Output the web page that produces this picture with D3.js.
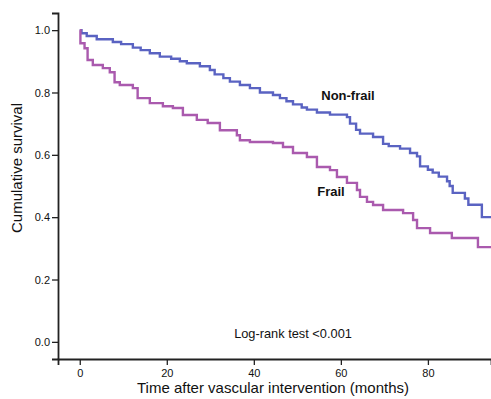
<!DOCTYPE html>
<html>
<head>
<meta charset="utf-8">
<script src="https://cdn.jsdelivr.net/npm/d3@7"></script>
<style>
  html, body { margin: 0; padding: 0; background: #fff; }
  svg { display: block; font-family: Arial, "Liberation Sans", sans-serif; }
</style>
</head>
<body>
<svg id="chart" width="491" height="399"></svg>
<script>
// ---- Data ----
const nonFrailTimes  = [0, 0.4, 1.6, 3.9, 7.6, 9.5, 12.2, 14, 16.1, 18.4, 21, 23, 24.6, 27.6, 29.9, 31, 33, 34.5, 36.8, 39.1, 41.4, 44.4, 46, 47.5, 49, 51, 52.2, 54.5, 57.5, 61.4, 62.1, 63.5, 64.4, 67.4, 69.7, 71, 73.6, 75.9, 77.5, 78.2, 80, 81.1, 82.5, 84.4, 85, 85.7, 88.5, 89.3, 92.4, 94.5];
const nonFrailValues = [1.0, 0.99, 0.981, 0.971, 0.962, 0.955, 0.944, 0.936, 0.926, 0.915, 0.908, 0.900, 0.894, 0.884, 0.872, 0.858, 0.846, 0.835, 0.824, 0.814, 0.800, 0.792, 0.782, 0.772, 0.762, 0.752, 0.745, 0.736, 0.729, 0.721, 0.700, 0.680, 0.668, 0.657, 0.635, 0.628, 0.620, 0.606, 0.595, 0.563, 0.552, 0.543, 0.530, 0.515, 0.500, 0.478, 0.460, 0.440, 0.400, 0.400];

const frailTimes  = [0, 0.15, 1.1, 1.8, 3.0, 5.3, 6.9, 8.0, 9.2, 12.2, 13.3, 16.1, 19.1, 21.4, 23.7, 26.9, 29.4, 32.2, 36.1, 36.8, 39.1, 44.4, 46.7, 49, 52.2, 54.5, 57.5, 59.1, 61.4, 63.7, 64.4, 66, 67.4, 69.7, 74.3, 76.6, 77.5, 80.5, 85.5, 91.5, 94.5];
const frailValues = [1.0, 0.958, 0.942, 0.904, 0.888, 0.878, 0.865, 0.833, 0.824, 0.814, 0.782, 0.766, 0.756, 0.750, 0.728, 0.712, 0.702, 0.679, 0.663, 0.647, 0.641, 0.638, 0.625, 0.606, 0.593, 0.561, 0.551, 0.529, 0.510, 0.487, 0.465, 0.449, 0.439, 0.423, 0.413, 0.391, 0.365, 0.349, 0.333, 0.304, 0.304];

const xTicks = [0, 20, 40, 60, 80];
const yTicks = [0.0, 0.2, 0.4, 0.6, 0.8, 1.0];

const seriesNames = ["Non-frail", "Frail"];
const seriesColors = ["#5a63c2", "#aa5aae"];

// ---- Chart ----
const svg = d3.select("#chart");
const x = d3.scaleLinear().domain([-5, 94.5]).range([58, 491]);
const y = d3.scaleLinear().domain([-0.055, 1.055]).range([359, 13]);

const line = d3.line()
  .x(d => x(d[0]))
  .y(d => y(d[1]))
  .curve(d3.curveStepAfter);

const series = [
  d3.zip(nonFrailTimes, nonFrailValues),
  d3.zip(frailTimes, frailValues)
];

svg.selectAll("path.km")
  .data(series)
  .join("path")
  .attr("class", "km")
  .attr("fill", "none")
  .attr("stroke", (d, i) => seriesColors[i])
  .attr("stroke-width", 2.4)
  .attr("d", line);

// Axes
const xAxis = svg.append("g")
  .attr("transform", `translate(0,359)`)
  .call(d3.axisBottom(x).tickValues(xTicks).tickFormat(d3.format("d")).tickSizeOuter(0).tickSize(6));
const yAxis = svg.append("g")
  .attr("transform", `translate(58,0)`)
  .call(d3.axisLeft(y).tickValues(yTicks).tickFormat(d3.format(".1f")).tickSizeOuter(0).tickSize(6));

[xAxis, yAxis].forEach(g => {
  g.select(".domain").attr("stroke", "#222").attr("stroke-width", 1.8);
  g.selectAll(".tick line").attr("stroke", "#222").attr("stroke-width", 1.3);
  g.selectAll(".tick text").attr("fill", "#111").style("font-size", "11px").style("font-family", "Arial, 'Liberation Sans', sans-serif");
});
xAxis.selectAll(".tick text").attr("dy", "0.95em").attr("y", 8);
yAxis.selectAll(".tick text").attr("x", -8);

// Axis titles
svg.append("text")
  .attr("x", 273).attr("y", 389)
  .attr("text-anchor", "middle").attr("dominant-baseline", "middle")
  .style("font-size", "15px").attr("fill", "#111")
  .text("Time after vascular intervention (months)");

svg.append("text")
  .attr("transform", "translate(18,168) rotate(-90)")
  .attr("text-anchor", "middle").attr("dominant-baseline", "middle")
  .style("font-size", "15px").attr("fill", "#111")
  .text("Cumulative survival");

// Series labels
svg.append("text")
  .attr("x", 348).attr("y", 97)
  .attr("text-anchor", "middle").attr("dominant-baseline", "middle")
  .style("font-size", "13px").style("font-weight", "bold").attr("fill", "#111")
  .text(seriesNames[0]);
svg.append("text")
  .attr("x", 331).attr("y", 193)
  .attr("text-anchor", "middle").attr("dominant-baseline", "middle")
  .style("font-size", "13px").style("font-weight", "bold").attr("fill", "#111")
  .text(seriesNames[1]);

svg.append("text")
  .attr("x", 293).attr("y", 335)
  .attr("text-anchor", "middle").attr("dominant-baseline", "middle")
  .style("font-size", "12.8px").attr("fill", "#111")
  .text("Log-rank test <0.001");
</script>
</body>
</html>
